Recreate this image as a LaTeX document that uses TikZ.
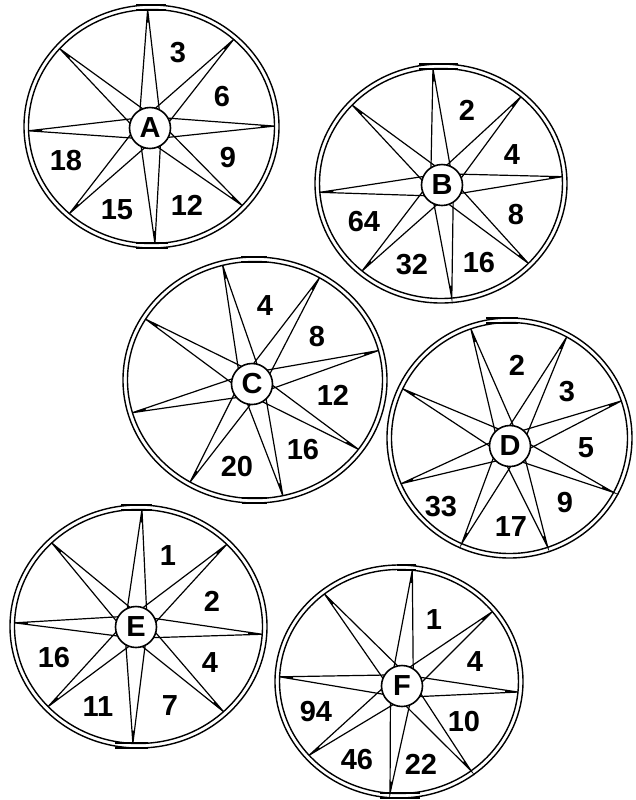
\documentclass[tikz,border=0pt]{standalone}
\usepackage{fontspec}
\setmainfont{Liberation Sans}
\usetikzlibrary{calc}
\tikzset{
  rim/.style={line width=0.7pt},
  spoke/.style={line width=0.6pt},
  tipfill/.style={fill=black},
  hub/.style={circle,draw,line width=0.8pt,fill=white,minimum size=20.5pt,inner sep=0pt,font=\fontsize{14.5}{16}\selectfont\bfseries},
  num/.style={font=\fontsize{14.5}{16}\selectfont\bfseries,inner sep=0pt},
  rimbar/.style={line width=0.9pt}
}
% #1 name, #2 cx, #3 cy, #4 rx, #5 ry, #6 hub x, #7 hub y, #8 spoke angles
\newcommand{\mywheel}[8]{%
  \draw[rim] (#2,#3) ellipse [x radius=#4, y radius=#5];
  \draw[rim] (#2,#3) ellipse [x radius=#4-4.5, y radius=#5-4.5];
  \node[hub] (#1) at (#6,#7) {#1};
  \foreach \a [count=\i] in {#8} {
    \coordinate (#1-t\i) at ({#2+(#4-4.5)*cos(\a)},{#3-(#5-4.5)*sin(\a)});
    \coordinate (#1-b\i) at ($(#1)!10.25pt!28:(#1-t\i)$);
    \coordinate (#1-c\i) at ($(#1)!10.25pt!-28:(#1-t\i)$);
    \draw[spoke] (#1-b\i) -- (#1-t\i) -- (#1-c\i);
    \fill[tipfill] ($(#1-b\i)!0.87!(#1-t\i)$) -- (#1-t\i) -- ($(#1-c\i)!0.87!(#1-t\i)$) -- cycle;
  }
}
\newcommand{\mybar}[4]{%
  \draw[rimbar] (#1,#3) -- (#2,#3);
  \draw[rimbar] (#1,#4) -- (#2,#4);
}
\begin{document}
\begin{tikzpicture}[x=0.5pt,y=-0.5pt]
\useasboundingbox (0,0) rectangle (636,800);

\mywheel{A}{151.5}{126.5}{127.5}{121.5}{150}{128}{91.8,48.1,0.2,-42.5,-88.4,228.1,182.1,138.3}
\mywheel{B}{441}{183.5}{126}{119.5}{442}{185}{93.8,48.9,3.4,-44.0,-84.9,229.5,184.4,137.0}
\mywheel{C}{255}{380}{132}{123}{252}{384}{104.7,59.6,14.4,-35.8,-77.4,239.4,196.0,149.1}
\mywheel{D}{509.5}{438}{122.5}{120}{510}{446}{109.1,61.0,18.7,-28.1,-71.1,246.1,203.3,154.8}
\mywheel{E}{138.5}{626.5}{128.5}{121.5}{136}{627}{88.4,44.6,-3.8,-46.7,267.4,223.2,178.2,134.4}
\mywheel{F}{399}{681.5}{124}{116.5}{402}{686}{83.6,38.6,-5.4,-52.9,265.7,221.2,177.6,128.6}

\mybar{136}{166}{5.2}{9.7}
\mybar{136}{168}{247.8}{243.3}
\mybar{419}{458}{64.2}{68.7}
\mybar{241}{267}{257.2}{261.7}
\mybar{242}{267}{502.8}{498.3}
\mybar{486}{518}{318.2}{322.7}
\mybar{121}{152}{505.2}{509.7}
\mybar{115}{148}{747.8}{743.3}
\mybar{397}{416}{565.2}{569.7}
\mybar{380}{420}{797.8}{793.3}

% A
\node[num] (A-n1) at (178,53) {3};
\node[num] (A-n2) at (222,97) {6};
\node[num] (A-n3) at (228,158) {9};
\node[num] (A-n4) at (187,205) {12};
\node[num] (A-n5) at (117,210) {15};
\node[num] (A-n6) at (66,161) {18};
% B
\node[num] (B-n1) at (467,110) {2};
\node[num] (B-n2) at (512,155) {4};
\node[num] (B-n3) at (516,215) {8};
\node[num] (B-n4) at (479,263) {16};
\node[num] (B-n5) at (412,265) {32};
\node[num] (B-n6) at (364,222) {64};
% C
\node[num] (C-n1) at (265,306) {4};
\node[num] (C-n2) at (317,337) {8};
\node[num] (C-n3) at (333,395) {12};
\node[num] (C-n4) at (303,450) {16};
\node[num] (C-n5) at (237,467) {20};
% D
\node[num] (D-n1) at (517,365) {2};
\node[num] (D-n2) at (567,392) {3};
\node[num] (D-n3) at (586,448) {5};
\node[num] (D-n4) at (565,503) {9};
\node[num] (D-n5) at (511,527) {17};
\node[num] (D-n6) at (441,507) {33};
% E
\node[num] (E-n1) at (168,556) {1};
\node[num] (E-n2) at (212,601) {2};
\node[num] (E-n3) at (210,663) {4};
\node[num] (E-n4) at (170,706) {7};
\node[num] (E-n5) at (98,707) {11};
\node[num] (E-n6) at (54,658) {16};
% F
\node[num] (F-n1) at (434,620) {1};
\node[num] (F-n2) at (475,662) {4};
\node[num] (F-n3) at (464,722) {10};
\node[num] (F-n4) at (421,764) {22};
\node[num] (F-n5) at (357,760) {46};
\node[num] (F-n6) at (316,712) {94};
\end{tikzpicture}
\end{document}
